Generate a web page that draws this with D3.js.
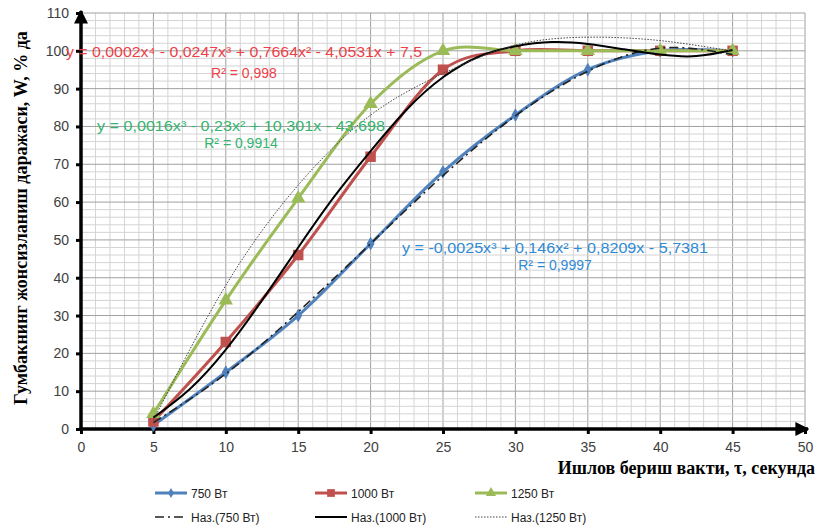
<!DOCTYPE html>
<html>
<head>
<meta charset="utf-8">
<script src="https://cdn.jsdelivr.net/npm/d3@7"></script>
<style>
  body { margin: 0; background: #fff; }
  svg { display: block; }
</style>
</head>
<body>
<div id="chart"></div>
<script>
// measured points
const times = [5, 10, 15, 20, 25, 30, 35, 40, 45];
const w750 = [1, 15, 30, 49, 68, 83, 95, 100, 100];
const w1000 = [2, 23, 46, 72, 95, 100, 100, 100, 100];
const w1250 = [4, 34, 61, 86, 100, 100, 100, 100, 100];

// trend lines
const trendTimes = [5, 10, 15, 20, 25, 30, 35, 40, 45];
const trend750 = [1.7, 14.6, 31, 49, 67, 82.8, 94.6, 100.7, 99];
const trend1250 = [2.3, 38, 64.5, 83, 94, 101.5, 103.6, 102.7, 99.9];
const trendTimesFine = [5, 7.5, 10, 12.5, 15, 17.5, 20, 22.5, 25, 27.5, 30, 32.5, 35, 37.5, 40, 42.5, 45];
const trend1000 = [3, 10.5, 21, 34, 48, 61.5, 73.5, 84.5, 93, 98.5, 101.2, 102.3, 101.8, 100.4, 99, 98.6, 100.2];

const xTicks = d3.range(0, 51, 5);
const yTicks = d3.range(0, 111, 10);

const legendNames = ["750 Вт", "1000 Вт", "1250 Вт", "Наз.(750 Вт)", "Наз.(1000 Вт)", "Наз.(1250 Вт)"];

const eqRed = ["y = 0,0002x⁴ - 0,0247x³ + 0,7664x² - 4,0531x + 7,5", "R² = 0,998"];
const eqGreen = ["y = 0,0016x³ - 0,23x² + 10,301x - 43,698", "R² = 0,9914"];
const eqBlue = ["y = -0,0025x³ + 0,146x² + 0,8209x - 5,7381", "R² = 0,9997"];

const yTitle = "Гумбакнинг жонсизланиш даражаси, W, % да";
const xTitle = "Ишлов бериш вакти, τ, секунда";

const W = 818, H = 531;
const margin = {top: 13, right: 13, bottom: 102, left: 81};

const svg = d3.select("#chart").append("svg")
  .attr("width", W).attr("height", H);

const x = d3.scaleLinear().domain([0, 50]).range([margin.left, 805]);
const y = d3.scaleLinear().domain([0, 110]).range([429, margin.top]);

const col = {blue: "#4f81bd", red: "#c0504d", green: "#9bbb59"};

// grid
const grid = svg.append("g");
grid.selectAll("line.vmin").data(d3.range(1, 51)).enter().append("line")
  .attr("x1", d => x(d)).attr("x2", d => x(d))
  .attr("y1", y(0)).attr("y2", y(110))
  .attr("stroke", d => d % 5 === 0 ? "#a0a0a0" : "#d4d4d4")
  .attr("stroke-width", 1);
grid.selectAll("line.hmin").data(d3.range(2, 111, 2)).enter().append("line")
  .attr("x1", x(0)).attr("x2", x(50))
  .attr("y1", d => y(d)).attr("y2", d => y(d))
  .attr("stroke", d => d % 10 === 0 ? "#a0a0a0" : "#d4d4d4")
  .attr("stroke-width", 1);

// arrow marker
const defs = svg.append("defs");
defs.append("marker")
  .attr("id", "arrow")
  .attr("viewBox", "0 0 10 10")
  .attr("refX", 9).attr("refY", 5)
  .attr("markerWidth", 4).attr("markerHeight", 4)
  .attr("markerUnits", "strokeWidth")
  .attr("orient", "auto")
  .append("path").attr("d", "M0,0 L10,5 L0,10 z").attr("fill", "#000");

// axes
const xAxis = svg.append("g")
  .attr("transform", "translate(0," + y(0) + ")")
  .call(d3.axisBottom(x).tickValues(xTicks).tickSize(5).tickSizeOuter(0).tickPadding(8));
const yAxis = svg.append("g")
  .attr("transform", "translate(" + x(0) + ",0)")
  .call(d3.axisLeft(y).tickValues(yTicks).tickSize(5).tickSizeOuter(0).tickPadding(7));

[xAxis, yAxis].forEach(a => {
  a.select(".domain").remove();
  a.selectAll(".tick line").attr("stroke", "#000").attr("stroke-width", 3);
  a.selectAll(".tick text")
    .attr("fill", "#404040")
    .style("font-family", "'Liberation Sans', Arial, sans-serif")
    .style("font-size", "14px");
});

svg.append("line")
  .attr("x1", x(0) - 1.5).attr("x2", x(50) + 3)
  .attr("y1", y(0)).attr("y2", y(0))
  .attr("stroke", "#000").attr("stroke-width", 3.5)
  .attr("marker-end", "url(#arrow)");
svg.append("line")
  .attr("x1", x(0)).attr("x2", x(0))
  .attr("y1", y(0) + 1.5).attr("y2", y(110) - 2)
  .attr("stroke", "#000").attr("stroke-width", 3.5)
  .attr("marker-end", "url(#arrow)");

// series
const smooth = d3.line()
  .x(d => x(d[0])).y(d => y(d[1]))
  .curve(d3.curveCardinal.tension(0));

const series = [
  {vals: w750, color: col.blue, shape: d3.symbolDiamond, size: 55},
  {vals: w1000, color: col.red, shape: d3.symbolSquare, size: 110},
  {vals: w1250, color: col.green, shape: d3.symbolTriangle, size: 90}
];

series.forEach(s => {
  const pts = times.map((t, i) => [t, s.vals[i]]);
  svg.append("path")
    .datum(pts)
    .attr("fill", "none")
    .attr("stroke", s.color)
    .attr("stroke-width", 3)
    .attr("d", smooth);
  svg.append("g").selectAll("path").data(pts).enter().append("path")
    .attr("transform", d => "translate(" + x(d[0]) + "," + y(d[1]) + ")")
    .attr("d", d3.symbol().type(s.shape).size(s.size))
    .attr("fill", s.color);
});

// trend lines
const natural = d3.line()
  .x(d => x(d[0])).y(d => y(d[1]))
  .curve(d3.curveNatural);

svg.append("path")
  .datum(trendTimes.map((t, i) => [t, trend750[i]]))
  .attr("fill", "none").attr("stroke", "#222").attr("stroke-width", 1.6)
  .attr("stroke-dasharray", "9,4,2,4")
  .attr("d", natural);
svg.append("path")
  .datum(trendTimesFine.map((t, i) => [t, trend1000[i]]))
  .attr("fill", "none").attr("stroke", "#000").attr("stroke-width", 2)
  .attr("d", natural);
svg.append("path")
  .datum(trendTimes.map((t, i) => [t, trend1250[i]]))
  .attr("fill", "none").attr("stroke", "#444").attr("stroke-width", 1)
  .attr("stroke-dasharray", "1.5,1.5")
  .attr("d", natural);

// equations
function equation(lines, cx, y1, y2, width, color) {
  const g = svg.append("g")
    .attr("fill", color)
    .style("font-family", "'Liberation Sans', Arial, sans-serif")
    .style("font-size", "14px")
    .attr("text-anchor", "middle");
  g.append("text").attr("x", cx).attr("y", y1)
    .attr("textLength", width).attr("lengthAdjust", "spacingAndGlyphs")
    .text(lines[0]);
  g.append("text").attr("x", cx).attr("y", y2).text(lines[1]);
}
equation(eqRed, 244, 57, 78, 356, "#ef3f48");
equation(eqGreen, 241, 131, 148, 288, "#34b46e");
equation(eqBlue, 555, 253, 270, 306, "#2f8ad6");

// axis titles
svg.append("text")
  .attr("transform", "translate(27,218) rotate(-90)")
  .attr("text-anchor", "middle")
  .style("font-family", "'Liberation Serif', 'Times New Roman', serif")
  .style("font-weight", "bold")
  .style("font-size", "18px")
  .text(yTitle);
svg.append("text")
  .attr("x", 815).attr("y", 474)
  .attr("text-anchor", "end")
  .style("font-family", "'Liberation Serif', 'Times New Roman', serif")
  .style("font-weight", "bold")
  .style("font-size", "18px")
  .text(xTitle);

// legend
const legendCols = [155, 315, 475];
const legendRows = [493, 517];
const legendStyles = [
  {color: col.blue, width: 3, dash: null, shape: d3.symbolDiamond, size: 30},
  {color: col.red, width: 3, dash: null, shape: d3.symbolSquare, size: 60},
  {color: col.green, width: 3, dash: null, shape: d3.symbolTriangle, size: 45},
  {color: "#222", width: 1.6, dash: "9,4,2,4", shape: null},
  {color: "#000", width: 2, dash: null, shape: null},
  {color: "#444", width: 1, dash: "1.5,1.5", shape: null}
];
const legend = svg.append("g");
legendNames.forEach((name, i) => {
  const lx = legendCols[i % 3], ly = legendRows[Math.floor(i / 3)];
  const st = legendStyles[i];
  legend.append("line")
    .attr("x1", lx).attr("x2", lx + 32)
    .attr("y1", ly).attr("y2", ly)
    .attr("stroke", st.color).attr("stroke-width", st.width)
    .attr("stroke-dasharray", st.dash);
  if (st.shape) {
    legend.append("path")
      .attr("transform", "translate(" + (lx + 16) + "," + ly + ")")
      .attr("d", d3.symbol().type(st.shape).size(st.size))
      .attr("fill", st.color);
  }
  legend.append("text")
    .attr("x", lx + 36).attr("y", ly + 4.5)
    .attr("fill", "#222")
    .style("font-family", "'Liberation Sans', Arial, sans-serif")
    .style("font-size", "12px")
    .text(name);
});
</script>
</body>
</html>
